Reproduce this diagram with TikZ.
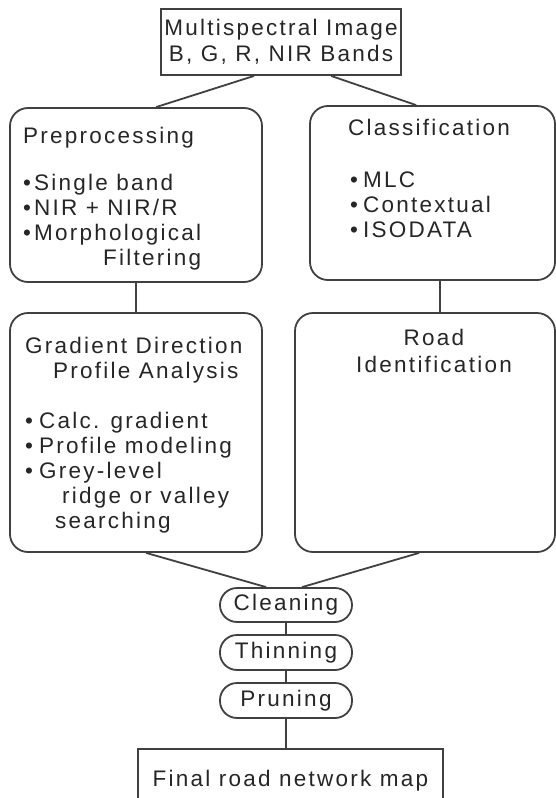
\documentclass[tikz,border=0pt]{standalone}
\usepackage{fontspec}
\setmainfont{Liberation Sans}[LetterSpace=10]
\newcommand\dgfont{\fontsize{22.5}{25}\selectfont}
\tikzset{
  lineclr/.style={draw=black!75, line width=1.8pt},
  bigbox/.style={lineclr, rounded corners=18pt, inner sep=0pt},
  pill/.style={lineclr, rounded corners=17pt, minimum width=132pt, inner sep=0pt, font=\dgfont, text=black!85},
  plainbox/.style={lineclr, inner sep=0pt, align=center, font=\dgfont, text=black!85},
  txt/.style={anchor=base west, inner sep=0pt, align=left, font=\dgfont, text=black!85},
  ctxt/.style={anchor=base, inner sep=0pt, align=center, font=\dgfont, text=black!85},
  link/.style={lineclr},
}
\begin{document}
\begin{tikzpicture}[x=1pt,y=-1pt]
\clip (0,0) rectangle (556,798);
\fill[white] (0,0) rectangle (556,798);
% boxes
\node[plainbox, minimum width=240pt, minimum height=66pt] (top) at (281,42)
  {Multispectral Image\\[1pt]B, G, R, NIR Bands};
\node[bigbox, minimum width=252pt, minimum height=174pt] (pre) at (136,195) {};
\node[bigbox, minimum width=245pt, minimum height=174pt] (cls) at (432.5,193) {};
\node[bigbox, minimum width=252pt, minimum height=239pt] (grad) at (136,432.5) {};
\node[bigbox, minimum width=260pt, minimum height=239pt] (road) at (425,432.5) {};
\node[pill, minimum height=34pt] (clean) at (286,605) {Cleaning};
\node[pill, minimum height=35pt] (thin) at (286,652.5) {Thinning};
\node[pill, minimum height=35pt] (prune) at (286,700.5) {Pruning};
\node[plainbox, minimum width=305pt, minimum height=64pt] (final) at (290.5,781)
  {Final road network map};
% texts (anchored at the baseline of their last line)
\node[txt] (preT) at (23,265) {Preprocessing\\[22pt]
  \textbullet\hspace{3pt}Single band\\
  \textbullet\hspace{3pt}NIR + NIR/R\\
  \textbullet\hspace{3pt}Morphological\\
  \hspace*{80pt}Filtering};
\node[txt] (clsT) at (348,237) {Classification\\[27pt]
  \hspace*{2pt}\textbullet\hspace{5pt}MLC\\
  \hspace*{2pt}\textbullet\hspace{5pt}Contextual\\
  \hspace*{2pt}\textbullet\hspace{5pt}ISODATA};
\node[txt] (gradT) at (25,528) {Gradient Direction\\
  \hspace*{28pt}Profile Analysis\\[25pt]
  \textbullet\hspace{6pt}Calc. gradient\\
  \textbullet\hspace{6pt}Profile modeling\\
  \textbullet\hspace{6pt}Grey-level\\
  \hspace*{37pt}ridge or valley\\
  \hspace*{30pt}searching};
\node[ctxt] (roadT) at (434,372) {Road\\[2pt]Identification};
% connectors
\draw[link] ([xshift=94pt]top.south west) -- ([xshift=147pt]pre.north west);
\draw[link] ([xshift=171pt]top.south west) -- ([xshift=107pt]cls.north west);
\draw[link] ([xshift=127pt]pre.south west) -- ([xshift=127pt]grad.north west);
\draw[link] ([xshift=131pt]cls.south west) -- ([xshift=146pt]road.north west);
\draw[link] ([xshift=137pt]grad.south west) -- ([xshift=47pt]clean.north west);
\draw[link] ([xshift=125pt]road.south west) -- ([xshift=83pt]clean.north west);
\draw[link] (clean.south) -- (thin.north);
\draw[link] (thin.south) -- (prune.north);
\draw[link] (prune.south) -- (prune.south |- final.north);
\end{tikzpicture}
\end{document}
